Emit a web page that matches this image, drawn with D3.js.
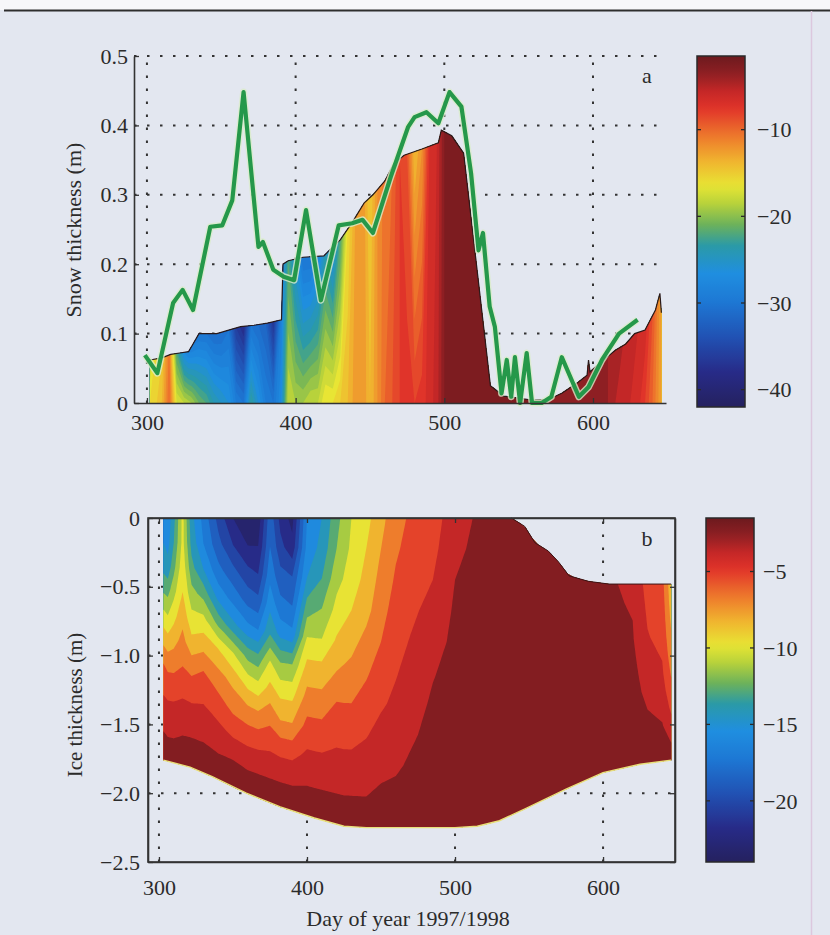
<!DOCTYPE html>
<html>
<head>
<meta charset="utf-8">
<script src="https://cdn.jsdelivr.net/npm/d3@7"></script>
<style>
  body { margin: 0; background: #e3e7f0; }
  svg { display: block; }
  text { font-family: "Liberation Serif", "Times New Roman", serif; fill: #2b2b2b; }
</style>
</head>
<body>
<div class="d3_canvas"></div>
<script>
var width = 830, height = 935;

// ---- panel a: snow ----
// modelled snow thickness (top of the coloured area)
var snowDepthDays = [302, 310, 316, 322, 328, 331, 335, 347, 355, 363, 372, 381, 390.5, 391.5, 395, 405, 419, 425, 430, 438, 446, 452, 460, 466, 473, 485, 496, 498, 505, 513, 531, 540, 560, 570, 579, 590, 596, 597, 598, 606, 615, 622, 628, 635, 642, 645, 646];
var snowDepth = [0.062, 0.065, 0.07, 0.072, 0.074, 0.085, 0.10, 0.10, 0.105, 0.11, 0.112, 0.115, 0.12, 0.20, 0.205, 0.21, 0.212, 0.225, 0.235, 0.26, 0.288, 0.30, 0.32, 0.345, 0.357, 0.366, 0.375, 0.393, 0.385, 0.36, 0.025, 0.01, 0.004, 0.005, 0.014, 0.03, 0.04, 0.062, 0.045, 0.06, 0.076, 0.085, 0.10, 0.105, 0.134, 0.158, 0.13];

// observed snow thickness (green)
var obsDays = [298.6, 307, 317.6, 324, 331, 342.6, 350.7, 357.4, 365, 375, 378, 385, 392, 399, 407, 417, 429, 438, 445, 452, 464, 475.7, 480, 488, 496, 503.5, 511.5, 518, 523, 526, 530.5, 534, 538.5, 542, 545, 547.5, 551, 555.4, 559, 565.5, 572, 579, 590.5, 597, 606, 617.5, 630];
var obsDepth = [0.069, 0.043, 0.144, 0.163, 0.134, 0.254, 0.256, 0.292, 0.448, 0.225, 0.232, 0.192, 0.182, 0.177, 0.278, 0.148, 0.256, 0.259, 0.264, 0.245, 0.326, 0.398, 0.412, 0.419, 0.403, 0.448, 0.427, 0.331, 0.22, 0.245, 0.139, 0.11, 0.014, 0.062, 0.009, 0.066, 0.0, 0.072, 0.0, 0.0, 0.009, 0.066, 0.009, 0.023, 0.062, 0.10, 0.12];

// snow temperature at the surface and at the base
var snowTDays = [302, 305, 310, 315, 320, 325, 330, 335, 340, 345, 350, 355, 360, 365, 370, 375, 380, 385, 390, 395, 400, 405, 410, 415, 420, 425, 430, 435, 440, 445, 450, 455, 460, 465, 470, 475, 480, 485, 490, 495, 500, 510, 520, 530, 540, 550, 560, 570, 580, 590, 600, 605, 610, 615, 620, 625, 630, 635, 640, 646];
var snowTSurface = [-18, -16, -15, -10.5, -22, -27, -29, -30, -30, -31, -31, -30, -36, -38, -30, -31, -32, -37, -29, -22, -26, -30, -30, -28, -24, -27, -22, -16, -13, -12, -15, -12, -10.5, -10, -8, -9, -14, -12, -7, -6, -3, -3, -3, -3, -3, -3, -3, -3, -3.2, -3.3, -3.5, -3.5, -4, -4.5, -5, -5.5, -6, -6.5, -9, -13];
var snowTBase = [-16, -15.5, -14, -10, -17, -18, -19, -21, -22, -24, -25, -26, -29, -30, -23, -26, -29, -30, -27, -18, -19, -19, -18, -18, -16, -16, -15, -14, -12.5, -12, -14, -12, -10, -9, -8, -7.5, -8, -7.5, -6.5, -5.5, -3, -3, -3, -3, -3, -3, -3, -3, -3.2, -3.3, -3.5, -3.5, -4, -5, -5.5, -6, -6.5, -8, -10, -13];

// ---- panel b: ice ----
var iceTopDays = [303, 538, 547, 554, 563, 570, 577, 590, 604, 646];
var iceTop = [0, 0, -0.06, -0.18, -0.24, -0.32, -0.42, -0.46, -0.48, -0.48];
var iceBottomDays = [303, 321, 336, 359, 382, 405, 425, 440, 500, 515, 530, 548, 575, 600, 625, 646];
var iceBottom = [-1.76, -1.81, -1.88, -2.0, -2.1, -2.18, -2.24, -2.25, -2.25, -2.24, -2.2, -2.11, -1.97, -1.85, -1.79, -1.76];

// ice temperature profiles, surface (0) to base (1) of the ice
var iceLevels = [0, 0.1, 0.2, 0.3, 0.4, 0.5, 0.6, 0.7, 0.8, 0.9, 1.0];
var iceTDays = [303, 306, 310, 316, 322, 330, 340, 350, 360, 367, 375, 382, 390, 400, 410, 420, 430, 440, 450, 460, 470, 485, 500, 520, 560, 600, 620, 630, 640, 646];
var iceT = [
  [-15.5, -15, -14, -12.2, -10, -8, -6, -4.8, -3.8, -2.8, -1.8],
  [-16, -15.5, -14.5, -12.5, -10.5, -8.5, -6.5, -5, -4, -3, -1.8],
  [-14, -13.5, -12.5, -11, -9.5, -8, -6.5, -5, -4, -3, -1.8],
  [-10, -10, -9.5, -9, -8, -7, -6, -4.8, -3.8, -2.8, -1.8],
  [-14.5, -14, -13, -11.5, -10, -8.5, -6.5, -5, -3.8, -2.8, -1.8],
  [-17, -16.5, -15, -12.5, -10, -8, -6, -4.8, -3.8, -2.8, -1.8],
  [-20, -19, -17.5, -15.5, -12.5, -9, -7, -5.5, -4.2, -3, -1.8],
  [-22.5, -21, -19, -17, -14.5, -10.5, -8, -6.5, -4.8, -3, -1.8],
  [-23.5, -22.5, -20.5, -18.5, -16, -12.5, -9.5, -7, -5, -3.2, -1.8],
  [-23.5, -22.5, -21, -19, -16.5, -13, -10, -7.2, -5, -3.2, -1.8],
  [-18.5, -18, -17, -15.5, -13.8, -10.5, -8.5, -6.5, -4.8, -3.2, -1.8],
  [-21.5, -20.5, -19, -17.5, -15.5, -12, -9.5, -7.5, -5, -3.2, -1.8],
  [-23, -22, -19.5, -18, -16, -12, -9.5, -7.5, -5, -3.2, -1.8],
  [-16.5, -16, -15, -12.8, -10.5, -8.5, -7, -5.5, -4.2, -3, -1.8],
  [-15, -14.5, -13.5, -12, -10.5, -8.5, -7, -5.5, -4.2, -3, -1.8],
  [-12.5, -12, -11, -10, -8.8, -7.5, -6, -5, -4, -3, -1.8],
  [-10.5, -10.2, -9.8, -9, -8, -7, -6, -5, -4, -3, -1.8],
  [-9.5, -9, -8.5, -8, -7, -6.2, -5.4, -4.6, -3.8, -3, -1.8],
  [-8, -7.5, -7, -6.5, -6, -5.3, -4.7, -4, -3.4, -2.7, -1.8],
  [-6.5, -6.2, -5.8, -5.4, -5, -4.6, -4.2, -3.7, -3.2, -2.6, -1.8],
  [-5.8, -5.5, -5.2, -4.8, -4.4, -4, -3.6, -3.2, -2.8, -2.4, -1.8],
  [-5.2, -4.9, -4.5, -4, -3.5, -3.1, -2.8, -2.6, -2.4, -2.2, -1.8],
  [-3.6, -3.3, -3, -2.8, -2.7, -2.5, -2.4, -2.3, -2.2, -2, -1.8],
  [-2.6, -2.5, -2.5, -2.4, -2.3, -2.3, -2.2, -2.1, -2, -1.9, -1.8],
  [-2.6, -2.5, -2.5, -2.4, -2.3, -2.3, -2.2, -2.1, -2, -1.9, -1.8],
  [-2.6, -2.5, -2.5, -2.4, -2.3, -2.3, -2.2, -2.1, -2, -1.9, -1.8],
  [-3.4, -3.2, -3, -2.9, -2.7, -2.5, -2.4, -2.3, -2.2, -2, -1.8],
  [-5, -4.8, -4.6, -4.4, -4.1, -3.8, -3.4, -3, -2.7, -2.3, -1.8],
  [-5.5, -5.3, -5.1, -4.9, -4.6, -4.3, -3.9, -3.4, -2.9, -2.4, -1.8],
  [-8.5, -8.2, -7.8, -7.3, -6.8, -6.2, -5.5, -4.8, -4, -3, -1.8]
];

// ticks
var dayTicks = [300, 400, 500, 600];
var snowTicks = [0, 0.1, 0.2, 0.3, 0.4, 0.5];
var iceTicks = [0, -0.5, -1.0, -1.5, -2.0, -2.5];
var snowBarTicks = [-10, -20, -30, -40];
var iceBarTicks = [-5, -10, -15, -20];

// printed "jet" colour map
var jetStops = [0, 0.1, 0.2, 0.3, 0.38, 0.46, 0.52, 0.58, 0.63, 0.7, 0.77, 0.85, 0.9, 0.95, 1];
var jetColors = ["#25215f", "#272b88", "#2152b4", "#1d78d4", "#1f8ee0", "#2b9aa6", "#6db25a", "#b8d23b", "#e8e534", "#f0b42f", "#ee7a2c", "#e1342a", "#c42727", "#8e1f23", "#6c1a1e"];
var jet = d3.scaleLinear().domain(jetStops).range(jetColors).clamp(true);

var snowColor = d3.scaleLinear().domain([-42, -1.5]).range([0, 1]).clamp(true);
var iceColor = d3.scaleLinear().domain([-24, -1.5]).range([0, 1]).clamp(true);

var svg = d3.select(".d3_canvas")
  .append("svg")
    .attr("width", width)
    .attr("height", height);

// page: scanned sheet
svg.append("rect").attr("width", width).attr("height", height).attr("fill", "#e3e7f0");
svg.append("rect").attr("width", width).attr("height", 10).attr("fill", "#f7f7f9");
svg.append("line").attr("x1", 4).attr("x2", width).attr("y1", 10.5).attr("y2", 10.5)
  .style("stroke", "#2e2e2e").style("stroke-width", 2);
svg.append("line").attr("x1", 811.5).attr("x2", 811.5).attr("y1", 11).attr("y2", height)
  .style("stroke", "#dcc8de").style("stroke-width", 1.5);

// scales
var xA = d3.scaleLinear().domain([291.3, 649.1]).range([134, 666]);
var yA = d3.scaleLinear().domain([0, 0.5]).range([403, 56]);
var xB = d3.scaleLinear().domain([292.6, 648.6]).range([148, 675]);
var yB = d3.scaleLinear().domain([-2.5, 0]).range([862, 518]);

function interp(xs, ys, x) {
  var i = d3.bisectRight(xs, x) - 1;
  if (i < 0) return ys[0];
  if (i >= xs.length - 1) return ys[ys.length - 1];
  var t = (x - xs[i]) / (xs[i + 1] - xs[i]);
  return ys[i] + t * (ys[i + 1] - ys[i]);
}

// turn contour rings (grid coords) into a path, densified so the
// curved edges of the domain are followed
function contourPath(polys, mapPt) {
  var d = "";
  polys.forEach(function(poly) {
    poly.forEach(function(ring) {
      var pts = [];
      for (var k = 0; k < ring.length - 1; k++) {
        var a = ring[k], b = ring[k + 1];
        var n = Math.max(1, Math.ceil(Math.max(Math.abs(b[0] - a[0]), Math.abs(b[1] - a[1])) / 0.1));
        for (var s = 0; s < n; s++) {
          pts.push(mapPt(a[0] + (b[0] - a[0]) * s / n, a[1] + (b[1] - a[1]) * s / n));
        }
      }
      d += "M" + pts.map(function(p) { return p[0].toFixed(1) + "," + p[1].toFixed(1); }).join("L") + "Z";
    });
  });
  return d;
}

function drawField(g, values, nx, ny, thresholds, fill, mapPt) {
  var contours = d3.contours().size([nx, ny]).thresholds(thresholds)(values);
  g.selectAll("path").data(contours).join("path")
    .attr("d", function(c) { return contourPath(c.coordinates, mapPt); })
    .attr("fill", function(c) { return fill(c.value); })
    .attr("fill-rule", "evenodd");
}

function dottedGrid(g, xs, ys, xScale, yScale) {
  var xr = xScale.range(), yr = yScale.range();
  g.selectAll("line.h").data(ys).join("line").attr("class", "h")
    .attr("x1", xr[0]).attr("x2", xr[1])
    .attr("y1", function(d) { return yScale(d); }).attr("y2", function(d) { return yScale(d); });
  g.selectAll("line.v").data(xs).join("line").attr("class", "v")
    .attr("y1", yr[0]).attr("y2", yr[1])
    .attr("x1", function(d) { return xScale(d); }).attr("x2", function(d) { return xScale(d); });
  g.selectAll("line")
    .style("stroke", "#333").style("stroke-width", 2)
    .style("stroke-dasharray", "2.5,10.5");
}

function styleAxis(g, size) {
  g.select(".domain").style("stroke", "#333").style("stroke-width", 1.6);
  g.selectAll(".tick line").style("stroke", "#333").style("stroke-width", 1.3);
  g.selectAll(".tick text").attr("fill", "#2b2b2b")
    .style("font-family", "'Liberation Serif', 'Times New Roman', serif")
    .style("font-size", size + "px");
}

var minus = function(v, digits) { return (v < 0 ? "\u2212" : "") + Math.abs(v).toFixed(digits); };

// ================= panel a =================
var gA = svg.append("g");
dottedGrid(gA.append("g"), dayTicks, snowTicks.slice(1), xA, yA);

var nS = snowTDays.length;
var snowIdx = d3.range(nS);
var snowValues = snowTSurface.concat(snowTBase);
drawField(gA.append("g"), snowValues, nS, 2, d3.range(-42, -1.5, 1),
  function(t) { return jet(snowColor(t + 0.5)); },
  function(gx, gy) {
    var fx = Math.max(0, Math.min(nS - 1, gx - 0.5));
    var fy = Math.max(0, Math.min(1, gy - 0.5));
    var day = interp(snowIdx, snowTDays, fx);
    var h = interp(snowDepthDays, snowDepth, day);
    return [xA(day), yA(h * (1 - fy))];
  });

var lineA = d3.line().x(function(d) { return xA(d[0]); }).y(function(d) { return yA(d[1]); });
gA.append("path")
  .attr("d", lineA(d3.zip(snowDepthDays, snowDepth)))
  .style("fill", "none").style("stroke", "#2a1a1a").style("stroke-width", 1.2);

var obs = d3.zip(obsDays, obsDepth);
gA.append("path").attr("d", lineA(obs))
  .style("fill", "none").style("stroke", "#d9ecc9").style("stroke-width", 7)
  .style("stroke-linejoin", "round").style("opacity", 0.8);
gA.append("path").attr("d", lineA(obs))
  .style("fill", "none").style("stroke", "#25984a").style("stroke-width", 4.2)
  .style("stroke-linejoin", "round");

var axAy = gA.append("g").attr("transform", "translate(134,0)")
  .call(d3.axisLeft(yA).tickValues(snowTicks).tickSizeInner(-5).tickSizeOuter(0).tickPadding(6)
    .tickFormat(function(d) { return d === 0 ? "0" : d3.format(".1f")(d); }));
styleAxis(axAy, 22);
var axAx = gA.append("g").attr("transform", "translate(0,403)")
  .call(d3.axisBottom(xA).tickValues(dayTicks).tickSizeInner(-5).tickSizeOuter(0).tickPadding(11)
    .tickFormat(d3.format("d")));
styleAxis(axAx, 22);

gA.append("text").attr("transform", "translate(73,230) rotate(-90)")
  .attr("text-anchor", "middle").attr("dy", "0.35em")
  .style("font-size", "22px").text("Snow thickness (m)");
gA.append("text").attr("x", 647).attr("y", 75).attr("dy", "0.35em")
  .attr("text-anchor", "middle").style("font-size", "22px").text("a");

// ================= panel b =================
var gB = svg.append("g");
dottedGrid(gB.append("g"), dayTicks, iceTicks.slice(1, 5), xB, yB);

var nI = iceTDays.length, mI = iceLevels.length;
var iceIdx = d3.range(nI), levIdx = d3.range(mI);
var iceValues = [];
for (var j = 0; j < mI; j++) {
  for (var i = 0; i < nI; i++) iceValues.push(iceT[i][j]);
}
drawField(gB.append("g"), iceValues, nI, mI, d3.range(-24, -2.9, 1.5),
  function(t) { return jet(iceColor(t + 0.75)); },
  function(gx, gy) {
    var fx = Math.max(0, Math.min(nI - 1, gx - 0.5));
    var fy = Math.max(0, Math.min(mI - 1, gy - 0.5));
    var day = interp(iceIdx, iceTDays, fx);
    var frac = interp(levIdx, iceLevels, fy);
    var top = interp(iceTopDays, iceTop, day);
    var bot = interp(iceBottomDays, iceBottom, day);
    return [xB(day), yB(top + frac * (bot - top))];
  });

var lineB = d3.line().x(function(d) { return xB(d[0]); }).y(function(d) { return yB(d[1]); });
gB.append("path").attr("d", lineB(d3.zip(iceBottomDays, iceBottom)))
  .style("fill", "none").style("stroke", "#e9e07a").style("stroke-width", 1.4);
gB.append("path").attr("d", lineB(d3.zip(iceTopDays, iceTop).filter(function(d) { return d[0] >= 530; })))
  .style("fill", "none").style("stroke", "#3a1416").style("stroke-width", 1);

gB.append("rect").attr("x", 148).attr("y", 518).attr("width", 675 - 148).attr("height", 862 - 518)
  .style("fill", "none").style("stroke", "#333").style("stroke-width", 1.6);

var axBy = gB.append("g").attr("transform", "translate(148,0)")
  .call(d3.axisLeft(yB).tickValues(iceTicks).tickSizeInner(-5).tickSizeOuter(0).tickPadding(8)
    .tickFormat(function(d) { return d === 0 ? "0" : minus(d, 1); }));
styleAxis(axBy, 22);
var axBr = gB.append("g").attr("transform", "translate(675,0)")
  .call(d3.axisRight(yB).tickValues(iceTicks).tickSizeInner(-5).tickSizeOuter(0).tickFormat(""));
styleAxis(axBr, 22);
var axBx = gB.append("g").attr("transform", "translate(0,862)")
  .call(d3.axisBottom(xB).tickValues(dayTicks).tickSizeInner(-5).tickSizeOuter(0).tickPadding(17)
    .tickFormat(d3.format("d")));
styleAxis(axBx, 22);
var axBt = gB.append("g").attr("transform", "translate(0,518)")
  .call(d3.axisTop(xB).tickValues(dayTicks).tickSizeInner(-5).tickSizeOuter(0).tickFormat(""));
styleAxis(axBt, 22);

gB.append("text").attr("transform", "translate(75,705) rotate(-90)")
  .attr("text-anchor", "middle").attr("dy", "0.35em")
  .style("font-size", "21px").text("Ice thickness (m)");
gB.append("text").attr("x", 408).attr("y", 926)
  .attr("text-anchor", "middle").style("font-size", "22px").text("Day of year 1997/1998");
gB.append("text").attr("x", 647).attr("y", 538).attr("dy", "0.35em")
  .attr("text-anchor", "middle").style("font-size", "22px").text("b");

// ================= colour bars =================
var defs = svg.append("defs");
var grad = defs.append("linearGradient").attr("id", "jetbar")
  .attr("x1", 0).attr("y1", 1).attr("x2", 0).attr("y2", 0);
grad.selectAll("stop").data(d3.range(0, 1.0001, 0.02)).join("stop")
  .attr("offset", function(d) { return d; })
  .attr("stop-color", function(d) { return jet(d); });

function colourBar(x0, x1, domain, y0, y1, ticks, labelX) {
  var s = d3.scaleLinear().domain(domain).range([y1, y0]);
  var g = svg.append("g");
  g.append("rect").attr("x", x0).attr("y", y0).attr("width", x1 - x0).attr("height", y1 - y0)
    .attr("fill", "url(#jetbar)").style("stroke", "#2a2a2a").style("stroke-width", 1.5);
  g.selectAll("line.l").data(ticks).join("line").attr("class", "l")
    .attr("x1", x0).attr("x2", x0 + 4)
    .attr("y1", function(d) { return s(d); }).attr("y2", function(d) { return s(d); });
  g.selectAll("line.r").data(ticks).join("line").attr("class", "r")
    .attr("x1", x1 - 4).attr("x2", x1)
    .attr("y1", function(d) { return s(d); }).attr("y2", function(d) { return s(d); });
  g.selectAll("line").style("stroke", "#2a2a2a").style("stroke-width", 1.3);
  g.selectAll("text").data(ticks).join("text")
    .attr("x", labelX).attr("y", function(d) { return s(d); }).attr("dy", "0.35em")
    .style("font-size", "22px").text(function(d) { return minus(d, 0); });
}
colourBar(697, 745, [-42, -1.5], 56, 407, snowBarTicks, 757);
colourBar(706, 754, [-24, -1.5], 518, 862, iceBarTicks, 763);
</script>
</body>
</html>
